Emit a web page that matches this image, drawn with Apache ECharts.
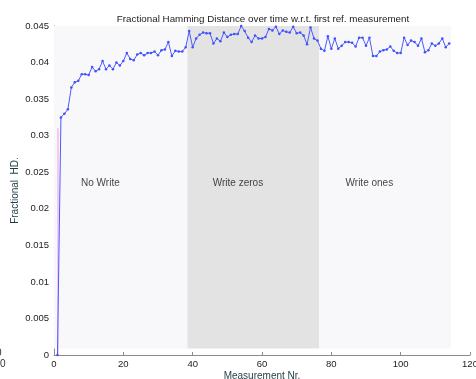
<!DOCTYPE html>
<html>
<head>
<meta charset="utf-8">
<script src="https://cdn.jsdelivr.net/npm/echarts@6/dist/echarts.min.js"></script>
<style>
  html, body { margin: 0; padding: 0; background: #fff; }
  #main { width: 476px; height: 379px; }
</style>
</head>
<body>
<div id="main"></div>
<script>
// fractional HD per measurement (measurement 1 is the reference itself)
var hdValues = [
  0, 0.0325, 0.0330, 0.0336, 0.0366, 0.0373, 0.0375, 0.0384, 0.0384, 0.0383,
  0.0394, 0.0388, 0.0391, 0.0402, 0.0391, 0.0396, 0.0391, 0.0400, 0.0396, 0.0402,
  0.0413, 0.0405, 0.0403, 0.0411, 0.0413, 0.0410, 0.0413, 0.0413, 0.0415, 0.0410,
  0.0417, 0.0418, 0.0428, 0.0409, 0.0416, 0.0415, 0.0415, 0.0421, 0.0443, 0.0421,
  0.0433, 0.0438, 0.0441, 0.0440, 0.0440, 0.0426, 0.0433, 0.0429, 0.0441, 0.0435,
  0.0438, 0.0439, 0.0439, 0.0450, 0.0443, 0.0434, 0.0428, 0.0437, 0.0433, 0.0433,
  0.0435, 0.0446, 0.0444, 0.0449, 0.0439, 0.0444, 0.0442, 0.0441, 0.0449, 0.0440,
  0.0441, 0.0437, 0.0425, 0.0448, 0.0433, 0.0430, 0.0419, 0.0416, 0.0436, 0.0419,
  0.0433, 0.0419, 0.0423, 0.0428, 0.0428, 0.0427, 0.0422, 0.0434, 0.0434, 0.0423,
  0.0434, 0.0409, 0.0409, 0.0415, 0.0417, 0.0418, 0.0422, 0.0416, 0.0413, 0.0413,
  0.0434, 0.0424, 0.0430, 0.0428, 0.0423, 0.0433, 0.0414, 0.0417, 0.0426, 0.0423,
  0.0426, 0.0433, 0.0421, 0.0426
];
// pink reference line at the start
var refLine = [[1.15, 0], [1.15, 0.031]];

// phases
var phaseNames = ['No Write', 'Write zeros', 'Write ones'];
var phaseStart = [0, 38.5, 76.5];
var phaseEnd = [38.5, 76.5, 114.5];
var phaseLabelX = [7.8, 45.8, 84.1];
var phaseColors = ['#f8f7fa', '#e3e3e3', '#f8f7fa'];
var labelY = 0.0235;

var xTicks = { min: 0, max: 120, interval: 20 };
var yTicks = { min: 0, max: 0.045, interval: 0.005 };

var points = hdValues.map(function (v, i) { return [i + 1, v]; });

var areas = phaseNames.map(function (n, i) {
  return [
    { xAxis: phaseStart[i], yAxis: 0.0009, itemStyle: { color: phaseColors[i] } },
    { xAxis: phaseEnd[i], yAxis: 0.0453 }
  ];
});

var textPoints = phaseNames.map(function (n, i) { return [phaseLabelX[i], labelY, n]; });

var chart = echarts.init(document.getElementById('main'));
var font = 'Liberation Sans, Arial, sans-serif';
var axisText = { color: '#222', fontSize: 9.5, fontFamily: font };

chart.setOption({
  animation: false,
  backgroundColor: '#fff',
  title: {
    text: 'Fractional Hamming Distance over time w.r.t. first ref. measurement',
    left: 258, top: 9, textAlign: 'center',
    textStyle: { fontSize: 9.8, fontWeight: 'normal', color: '#222', fontFamily: font }
  },
  graphic: [
    { type: 'text', left: -4, top: 348, style: { text: '0', fontSize: 10, fill: '#333', fontFamily: font } },
    { type: 'text', left: -11, top: 359, style: { text: '100', fontSize: 10, fill: '#333', fontFamily: font } }
  ],
  grid: { left: 54, right: 6, top: 26, bottom: 24, outerBoundsMode: 'none', containLabel: false },
  xAxis: {
    type: 'value', min: xTicks.min, max: xTicks.max, interval: xTicks.interval,
    name: 'Measurement Nr.', nameLocation: 'middle', nameGap: 21, nameMoveOverlap: false,
    nameTextStyle: { color: '#1e3b44', fontSize: 10, fontFamily: font, verticalAlign: 'middle' },
    axisLine: { lineStyle: { color: '#8a8a8a' } },
    axisTick: { inside: true, length: 3, lineStyle: { color: '#8a8a8a' } },
    axisLabel: Object.assign({ margin: 4 }, axisText),
    splitLine: { show: false }
  },
  yAxis: {
    type: 'value', min: yTicks.min, max: yTicks.max, interval: yTicks.interval,
    name: 'Fractional  HD.', nameLocation: 'middle', nameGap: 39, nameMoveOverlap: false,
    nameTextStyle: { color: '#1e3b44', fontSize: 10, fontFamily: font, verticalAlign: 'middle' },
    axisLine: { show: true, lineStyle: { color: '#8a8a8a' } },
    axisTick: { show: true, inside: true, length: 3, lineStyle: { color: '#8a8a8a' } },
    axisLabel: Object.assign({ margin: 5, formatter: function (v) { return String(+v.toFixed(3)); } }, axisText),
    splitLine: { show: false }
  },
  series: [
    {
      name: 'phases', type: 'line', data: [], silent: true,
      markArea: { silent: true, data: areas }
    },
    {
      name: 'ref', type: 'line', data: refLine, symbol: 'none', z: 2,
      lineStyle: { color: '#f0a0ea', width: 1 }
    },
    {
      name: 'HD', type: 'line', data: points, z: 3,
      symbol: 'circle', symbolSize: 2.5,
      itemStyle: { color: '#3f50ff' },
      lineStyle: { color: '#4a5cff', width: 1 }
    },
    {
      name: 'labels', type: 'scatter', data: textPoints, symbolSize: 0, z: 4,
      label: {
        show: true, position: 'right', distance: 0,
        formatter: function (p) { return p.value[2]; },
        color: '#111', fontSize: 10, fontFamily: font
      }
    }
  ]
});
</script>
</body>
</html>
